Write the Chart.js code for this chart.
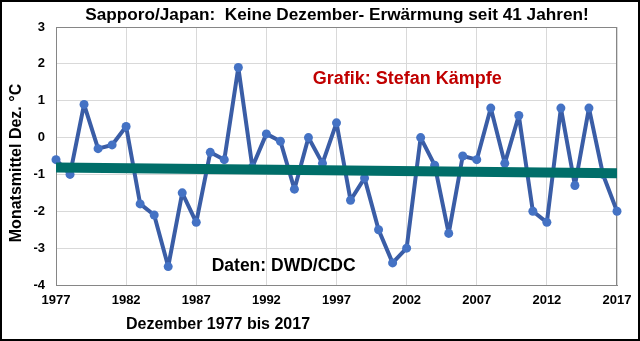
<!DOCTYPE html>
<html><head><meta charset="utf-8">
<script src="https://cdn.jsdelivr.net/npm/chart.js@4"></script>
<style>html,body{margin:0;padding:0;background:#fff}#wrap{width:640px;height:341px;position:relative}</style>
</head><body><div id="wrap"><canvas id="c" width="640" height="341"></canvas></div>
<script>
const years = [1977,1978,1979,1980,1981,1982,1983,1984,1985,1986,1987,1988,1989,1990,1991,1992,1993,1994,1995,1996,1997,1998,1999,2000,2001,2002,2003,2004,2005,2006,2007,2008,2009,2010,2011,2012,2013,2014,2015,2016,2017];
const temps = [-0.6,-1.0,0.9,-0.3,-0.2,0.3,-1.8,-2.1,-3.5,-1.5,-2.3,-0.4,-0.6,1.9,-0.8,0.1,-0.1,-1.4,0.0,-0.7,0.4,-1.7,-1.1,-2.5,-3.4,-3.0,0.0,-0.75,-2.6,-0.5,-0.6,0.8,-0.7,0.6,-2.0,-2.3,0.8,-1.3,0.8,-1.0,-2.0];
const trendYears = [1977, 2017];
const trendValues = [-0.81, -0.97];
const xTicks = [1977,1982,1987,1992,1997,2002,2007,2012,2017];
const yTicks = [3,2,1,0,-1,-2,-3,-4];
const titleText = 'Sapporo/Japan:  Keine Dezember- Erwärmung seit 41 Jahren!';
const yTitle = 'Monatsmittel Dez. °C';
const xTitle = 'Dezember 1977 bis 2017';
const noteAuthor = 'Grafik: Stefan Kämpfe';
const noteData = 'Daten: DWD/CDC';

const FONT = "'Liberation Sans', Arial, sans-serif";

const decor = {
  id: 'decor',
  beforeDatasetsDraw(chart) {
    const {ctx, chartArea: a} = chart;
    ctx.save();
    ctx.strokeStyle = '#868686';
    ctx.lineWidth = 1;
    ctx.strokeRect(a.left + 0.5, a.top + 0.5, a.right - a.left - 1, a.bottom - a.top);
    ctx.restore();
  },
  afterDraw(chart) {
    const {ctx, scales} = chart;
    ctx.save();
    ctx.fillStyle = '#000';
    ctx.textBaseline = 'middle';
    ctx.textAlign = 'center';
    ctx.font = 'bold 17.2px ' + FONT;
    ctx.fillText(titleText, 337, 15);
    ctx.font = 'bold 16px ' + FONT;
    ctx.fillText(xTitle, 218, 325);
    ctx.save();
    ctx.translate(17, 163);
    ctx.rotate(-Math.PI / 2);
    ctx.fillText(yTitle, 0, 0);
    ctx.restore();
    ctx.textAlign = 'left';
    ctx.fillStyle = '#C00000';
    ctx.font = 'bold 18px ' + FONT;
    ctx.fillText(noteAuthor, scales.x.getPixelForValue(1995.3), scales.y.getPixelForValue(1.59));
    ctx.fillStyle = '#000';
    ctx.font = 'bold 17.5px ' + FONT;
    ctx.fillText(noteData, scales.x.getPixelForValue(1988.1), scales.y.getPixelForValue(-3.5));
    ctx.strokeStyle = '#000';
    ctx.lineWidth = 2;
    ctx.strokeRect(1, 1, 638, 339);
    ctx.restore();
  }
};

new Chart(document.getElementById('c'), {
  type: 'line',
  data: {
    datasets: [
      {
        label: 'Trend',
        data: trendYears.map((x, i) => ({x, y: trendValues[i]})),
        borderColor: '#006E69',
        borderWidth: 10,
        pointRadius: 0,
        order: 0
      },
      {
        label: 'Dezember',
        data: years.map((x, i) => ({x, y: temps[i]})),
        borderColor: '#3A5DA6',
        borderWidth: 4,
        borderJoinStyle: 'round',
        borderCapStyle: 'round',
        pointRadius: 4.5,
        pointBackgroundColor: '#4472C4',
        pointBorderColor: '#4472C4',
        pointBorderWidth: 0,
        tension: 0,
        clip: false,
        order: 1
      }
    ]
  },
  options: {
    responsive: false,
    animation: false,
    devicePixelRatio: 1,
    layout: {padding: {top: 27, right: 23, left: 0, bottom: 0}},
    plugins: {legend: {display: false}, tooltip: {enabled: false}, title: {display: false}},
    scales: {
      x: {
        type: 'linear', min: 1977, max: 2017,
        afterBuildTicks: s => { s.ticks = xTicks.map(v => ({value: v})); },
        afterFit: s => { s.height = 56; },
        grid: {color: '#d9d9d9', drawTicks: false},
        border: {color: '#868686'},
        ticks: {font: {family: FONT, size: 13, weight: 'bold'}, color: '#000', padding: 8, maxRotation: 0, callback: v => String(v)}
      },
      y: {
        min: -4, max: 3,
        afterBuildTicks: s => { s.ticks = yTicks.map(v => ({value: v})); },
        afterFit: s => { s.width = 56; },
        grid: {color: '#d9d9d9', drawTicks: false},
        border: {color: '#868686'},
        ticks: {font: {family: FONT, size: 13, weight: 'bold'}, color: '#000', padding: 11, callback: v => String(v)}
      }
    }
  },
  plugins: [decor]
});
</script></body></html>
